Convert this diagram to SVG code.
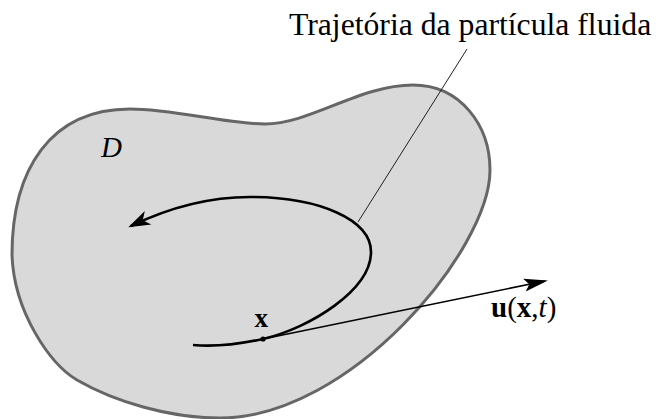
<svg xmlns="http://www.w3.org/2000/svg" width="658" height="419" viewBox="0 0 658 419">
<style>
.lbl{font-family:"Liberation Serif","Times New Roman",serif;fill:#000}
.blob{fill:#d9d9d9;stroke:#666;stroke-width:3}
.traj{fill:none;stroke:#000;stroke-width:2.6}
.vec{fill:none;stroke:#000;stroke-width:1.6}
.lead{fill:none;stroke:#222;stroke-width:1}
</style>
<defs>
<marker id="barb" markerUnits="userSpaceOnUse" markerWidth="30" markerHeight="20" viewBox="-24 -10 30 20" refX="-3" refY="0" orient="auto">
<path d="M0,0 L-22,-7.5 L-16,0 L-22,7.5 Z" fill="#000"/>
</marker>
<marker id="vhead" markerUnits="userSpaceOnUse" markerWidth="30" markerHeight="20" viewBox="-26 -10 30 20" refX="-3" refY="0" orient="auto">
<path d="M0,0 L-24,-6.5 L-19,0 L-24,6.5 Z" fill="#000"/>
</marker>
</defs>
<g id="region">
<path class="blob" d="M130,109 C175,109 225,124 265,124 C310,124 360,85 413,85 C460,85 490,125 490,170 C490,250 350,418 220,418 C170,418 115,402 77,380 C50,364 14,312 12,255 C12,170 50,109 130,109 Z"/>
<text class="lbl" x="101" y="157" font-size="29" font-style="italic">D</text>
</g>
<g id="connectors">
<path class="traj" marker-end="url(#barb)" d="M193,345 C215,347 240,344 263,339 C310,328 371,290 371,252 C371,220 320,197 250,197 C200,197 160,212 131,226"/>
<path class="vec" marker-end="url(#vhead)" d="M263,339 L545,281"/>
<path class="lead" d="M467,49 L358,222"/>
</g>
<g id="point-x">
<circle cx="263" cy="339" r="2.6" fill="#000"/>
<text class="lbl" x="254.5" y="327" font-size="27" font-weight="bold">x</text>
</g>
<g id="velocity-label">
<text class="lbl" x="491" y="317" font-size="29"><tspan font-weight="bold">u</tspan>(<tspan font-weight="bold">x</tspan>,<tspan font-style="italic">t</tspan>)</text>
</g>
<g id="trajectory-label">
<text class="lbl" x="289" y="35" font-size="31.7">Trajetória da partícula fluida</text>
</g>
</svg>
